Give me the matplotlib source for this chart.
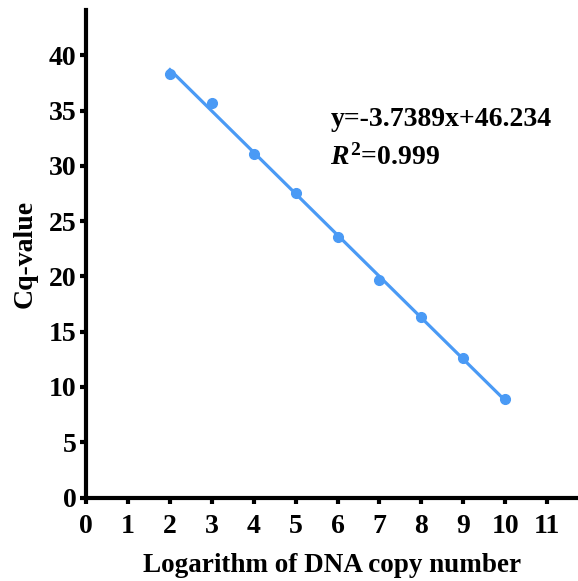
import matplotlib
matplotlib.use('Agg')
import matplotlib.pyplot as plt
import numpy as np

# standard curve data
log_copies = [2, 3, 4, 5, 6, 7, 8, 9, 10]
cq_values = [38.35, 35.7, 31.05, 27.55, 23.55, 19.7, 16.3, 12.6, 8.9]
x_ticks = list(range(0, 12))
y_ticks = list(range(0, 45, 5))
eq_text = 'y=-3.7389x+46.234'
r2_text = '$R^{2}$=0.999'

plt.rcParams['font.family'] = 'Liberation Serif'
plt.rcParams['font.weight'] = 'bold'
plt.rcParams['mathtext.fontset'] = 'custom'
plt.rcParams['mathtext.rm'] = 'Liberation Serif:bold'
plt.rcParams['mathtext.it'] = 'Liberation Serif:italic:bold'
plt.rcParams['mathtext.bf'] = 'Liberation Serif:bold'

col = '#4a9af5'

fig = plt.figure(figsize=(5.78, 5.81), dpi=100)
ax = fig.add_axes([0.149, 0.1437, 0.851, 0.839])

slope, intercept = np.polyfit(log_copies, cq_values, 1)
xs = np.array([log_copies[0], log_copies[-1]])
ax.plot(xs, slope * xs + intercept, color=col, linewidth=2.3, zorder=2)
ax.plot(log_copies, cq_values, 'o', color=col, markersize=7, zorder=3)

ax.set_xlim(0, 11.74)
ax.set_ylim(0, 44.1)
ax.set_xticks(x_ticks)
ax.set_yticks(y_ticks)

for s in ['top', 'right']:
    ax.spines[s].set_visible(False)
for s in ['left', 'bottom']:
    ax.spines[s].set_linewidth(3)
ax.tick_params(width=3, length=4, labelsize=20)
ax.tick_params(axis='x', pad=8)
ax.tick_params(axis='y', pad=3)
for lab in ax.get_xticklabels() + ax.get_yticklabels():
    lab.set_fontweight('bold')

ax.set_xlabel('Logarithm of DNA copy number', fontsize=19.5, fontweight='bold', labelpad=10)
ax.set_ylabel('Cq-value', fontsize=20, fontweight='bold', labelpad=8)

ax.text(5.83, 34.2, eq_text, fontsize=20, fontweight='bold', va='center')
ax.text(5.83, 30.8, r2_text, fontsize=20, fontweight='bold', va='center')

fig.savefig('out.png', dpi=100)
